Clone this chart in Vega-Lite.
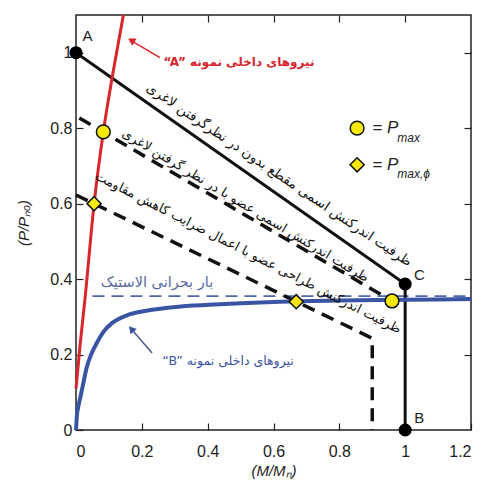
{
  "$schema": "https://vega.github.io/schema/vega-lite/v6.json",
  "width": 395,
  "height": 415,
  "autosize": {"type": "none"},
  "padding": {"left": 76, "top": 15, "right": 13, "bottom": 57},
  "background": "white",
  "config": {
    "view": {"stroke": "#222", "strokeWidth": 1.5},
    "axis": {"domain": false, "grid": false, "labelFont": "Liberation Sans", "labelFontSize": 16, "labelColor": "#222", "titleFont": "Liberation Sans", "titleFontSize": 15, "titleColor": "#222", "titleFontWeight": "normal", "tickColor": "#222", "tickWidth": 1.2, "tickSize": -7}
  },
  "datasets": {
    "capacity": [
      {"x": 0, "y": 1.0, "i": 1},
      {"x": 1.0, "y": 0.387, "i": 2},
      {"x": 1.0, "y": 0.0, "i": 3}
    ],
    "dash1": [
      {"x": 0.01, "y": 0.827, "i": 1},
      {"x": 0.96, "y": 0.342, "i": 2}
    ],
    "dash2": [
      {"x": 0.0, "y": 0.623, "i": 1},
      {"x": 0.9, "y": 0.243, "i": 2},
      {"x": 0.9, "y": 0.0, "i": 3}
    ],
    "elastic": [
      {"x": 0.05, "y": 0.355},
      {"x": 1.2, "y": 0.355}
    ],
    "red": [
      {"x": 0.0, "y": 0.11},
      {"x": 0.013, "y": 0.23},
      {"x": 0.027, "y": 0.345},
      {"x": 0.055, "y": 0.6},
      {"x": 0.083, "y": 0.79},
      {"x": 0.113, "y": 0.95},
      {"x": 0.144, "y": 1.1}
    ],
    "blue": [
      {"x": 0, "y": 0},
      {"x": 0.003, "y": 0.04},
      {"x": 0.007, "y": 0.062},
      {"x": 0.012, "y": 0.082},
      {"x": 0.02, "y": 0.115},
      {"x": 0.033, "y": 0.167},
      {"x": 0.045, "y": 0.198},
      {"x": 0.064, "y": 0.232},
      {"x": 0.085, "y": 0.262},
      {"x": 0.11, "y": 0.284},
      {"x": 0.158, "y": 0.305},
      {"x": 0.2, "y": 0.314},
      {"x": 0.28, "y": 0.324},
      {"x": 0.36, "y": 0.33},
      {"x": 0.5, "y": 0.336},
      {"x": 0.62, "y": 0.34},
      {"x": 0.8, "y": 0.343},
      {"x": 1.0, "y": 0.345},
      {"x": 1.2, "y": 0.347}
    ],
    "blackpts": [
      {"x": 0, "y": 1.0, "label": "A", "lx": 0.035, "ly": 1.045},
      {"x": 1.0, "y": 0.387, "label": "C", "lx": 1.043, "ly": 0.41},
      {"x": 1.0, "y": 0.0, "label": "B", "lx": 1.043, "ly": 0.033}
    ],
    "pmax": [
      {"x": 0.083, "y": 0.79},
      {"x": 0.96, "y": 0.342},
      {"x": 0.854, "y": 0.8}
    ],
    "pphi": [
      {"x": 0.055, "y": 0.6},
      {"x": 0.669, "y": 0.34},
      {"x": 0.854, "y": 0.703}
    ],
    "legendP": [
      {"x": 0.9, "y": 0.8, "t": "= P"},
      {"x": 0.9, "y": 0.703, "t": "= P"}
    ],
    "legendSub": [
      {"x": 0.976, "y": 0.775, "t": "max"},
      {"x": 0.976, "y": 0.678, "t": "max,ϕ"}
    ],
    "t1": [{"x": 0.617, "y": 0.676, "t": "ظرفیت اندرکنش اسمی مقطع بدون در نظرگرفتن لاغری"}],
    "t2": [{"x": 0.515, "y": 0.595, "t": "ظرفیت اندرکنش اسمی عضو با در نظر گرفتن لاغری"}],
    "t3": [{"x": 0.523, "y": 0.47, "t": "ظرفیت اندرکنش طراحی عضو با اعمال ضرایب کاهش مقاومت"}],
    "redtxt": [{"x": 0.495, "y": 0.976, "t": "“A” نیروهای داخلی نمونه"}],
    "bluetxt": [{"x": 0.462, "y": 0.183, "t": "“B” نیروهای داخلی نمونه"}],
    "elastictxt": [{"x": 0.246, "y": 0.39, "t": "بار بحرانی الاستیک"}],
    "redarrow": [{"x": 0.255, "y": 0.987, "x2": 0.17, "y2": 1.031}],
    "redhead": [{"x": 0.168, "y": 1.033}],
    "bluearrow": [{"x": 0.231, "y": 0.204, "x2": 0.17, "y2": 0.266}],
    "bluehead": [{"x": 0.168, "y": 0.268}]
  },
  "resolve": {"axis": {"x": "independent", "y": "independent"}},
  "layer": [
    {
      "data": {"name": "elastic"},
      "mark": {"type": "line", "color": "#4f66aa", "strokeWidth": 1.8, "strokeDash": [12, 7]},
      "encoding": {
        "x": {"field": "x", "type": "quantitative", "scale": {"domain": [0, 1.2], "nice": false, "zero": false},
              "axis": {"values": [0, 0.2, 0.4, 0.6, 0.8, 1, 1.2], "format": "~g", "labelPadding": 20, "title": "(M/Mₙ)", "titleFontStyle": "italic", "titlePadding": 4}},
        "y": {"field": "y", "type": "quantitative", "scale": {"domain": [0, 1.1], "nice": false, "zero": false},
              "axis": {"values": [0, 0.2, 0.4, 0.6, 0.8, 1], "format": "~g", "labelPadding": 11, "title": "(P/Pₙₒ)", "titleFontStyle": "italic", "titlePadding": 18}}
      }
    },
    {
      "data": {"name": "dash1"},
      "mark": {"type": "line", "color": "#111", "strokeWidth": 3.5, "strokeDash": [13, 8]},
      "encoding": {
        "x": {"field": "x", "type": "quantitative", "axis": {"orient": "top", "values": [0.2, 0.4, 0.6, 0.8, 1], "labels": false, "title": null}},
        "y": {"field": "y", "type": "quantitative", "axis": {"orient": "right", "values": [0.2, 0.4, 0.6, 0.8, 1], "labels": false, "title": null}},
        "order": {"field": "i"}
      }
    },
    {
      "data": {"name": "dash2"},
      "mark": {"type": "line", "color": "#111", "strokeWidth": 3.5, "strokeDash": [13, 8]},
      "encoding": {
        "x": {"field": "x", "type": "quantitative", "axis": null},
        "y": {"field": "y", "type": "quantitative", "axis": null},
        "order": {"field": "i"}
      }
    },
    {
      "data": {"name": "capacity"},
      "mark": {"type": "line", "color": "#111", "strokeWidth": 3},
      "encoding": {
        "x": {"field": "x", "type": "quantitative", "axis": null},
        "y": {"field": "y", "type": "quantitative", "axis": null},
        "order": {"field": "i"}
      }
    },
    {
      "data": {"name": "red"},
      "mark": {"type": "line", "color": "#d7262d", "strokeWidth": 3, "interpolate": "monotone"},
      "encoding": {
        "x": {"field": "x", "type": "quantitative", "axis": null},
        "y": {"field": "y", "type": "quantitative", "axis": null}
      }
    },
    {
      "data": {"name": "blue"},
      "mark": {"type": "line", "color": "#3a54a4", "strokeWidth": 4, "interpolate": "monotone"},
      "encoding": {
        "x": {"field": "x", "type": "quantitative", "axis": null},
        "y": {"field": "y", "type": "quantitative", "axis": null}
      }
    },
    {
      "data": {"name": "redarrow"},
      "mark": {"type": "rule", "color": "#d7262d", "strokeWidth": 1.5},
      "encoding": {
        "x": {"field": "x", "type": "quantitative", "axis": null},
        "y": {"field": "y", "type": "quantitative", "axis": null},
        "x2": {"field": "x2"},
        "y2": {"field": "y2"}
      }
    },
    {
      "data": {"name": "redhead"},
      "mark": {"type": "point", "shape": "triangle-up", "filled": true, "color": "#d7262d", "size": 70, "angle": -59, "opacity": 1},
      "encoding": {
        "x": {"field": "x", "type": "quantitative", "axis": null},
        "y": {"field": "y", "type": "quantitative", "axis": null}
      }
    },
    {
      "data": {"name": "bluearrow"},
      "mark": {"type": "rule", "color": "#4a5c8c", "strokeWidth": 1.5},
      "encoding": {
        "x": {"field": "x", "type": "quantitative", "axis": null},
        "y": {"field": "y", "type": "quantitative", "axis": null},
        "x2": {"field": "x2"},
        "y2": {"field": "y2"}
      }
    },
    {
      "data": {"name": "bluehead"},
      "mark": {"type": "point", "shape": "triangle-up", "filled": true, "color": "#3a54a4", "size": 70, "angle": -41, "opacity": 1},
      "encoding": {
        "x": {"field": "x", "type": "quantitative", "axis": null},
        "y": {"field": "y", "type": "quantitative", "axis": null}
      }
    },
    {
      "data": {"name": "t1"},
      "mark": {"type": "text", "font": "DejaVu Sans", "fontSize": 13.5, "color": "#111", "angle": 34, "align": "center", "baseline": "middle"},
      "encoding": {
        "x": {"field": "x", "type": "quantitative", "axis": null},
        "y": {"field": "y", "type": "quantitative", "axis": null},
        "text": {"field": "t"}
      }
    },
    {
      "data": {"name": "t2"},
      "mark": {"type": "text", "font": "DejaVu Sans", "fontSize": 13, "color": "#111", "angle": 31, "align": "center", "baseline": "middle"},
      "encoding": {
        "x": {"field": "x", "type": "quantitative", "axis": null},
        "y": {"field": "y", "type": "quantitative", "axis": null},
        "text": {"field": "t"}
      }
    },
    {
      "data": {"name": "t3"},
      "mark": {"type": "text", "font": "DejaVu Sans", "fontSize": 13, "color": "#111", "angle": 27, "align": "center", "baseline": "middle"},
      "encoding": {
        "x": {"field": "x", "type": "quantitative", "axis": null},
        "y": {"field": "y", "type": "quantitative", "axis": null},
        "text": {"field": "t"}
      }
    },
    {
      "data": {"name": "redtxt"},
      "mark": {"type": "text", "font": "DejaVu Sans", "fontSize": 12, "fontWeight": "bold", "color": "#d7262d", "align": "center", "baseline": "middle"},
      "encoding": {
        "x": {"field": "x", "type": "quantitative", "axis": null},
        "y": {"field": "y", "type": "quantitative", "axis": null},
        "text": {"field": "t"}
      }
    },
    {
      "data": {"name": "bluetxt"},
      "mark": {"type": "text", "font": "DejaVu Sans", "fontSize": 12.5, "color": "#3a54a4", "align": "center", "baseline": "middle"},
      "encoding": {
        "x": {"field": "x", "type": "quantitative", "axis": null},
        "y": {"field": "y", "type": "quantitative", "axis": null},
        "text": {"field": "t"}
      }
    },
    {
      "data": {"name": "elastictxt"},
      "mark": {"type": "text", "font": "DejaVu Sans", "fontSize": 14.5, "color": "#5a6aa0", "align": "center", "baseline": "middle"},
      "encoding": {
        "x": {"field": "x", "type": "quantitative", "axis": null},
        "y": {"field": "y", "type": "quantitative", "axis": null},
        "text": {"field": "t"}
      }
    },
    {
      "data": {"name": "blackpts"},
      "mark": {"type": "point", "shape": "circle", "filled": true, "color": "#000", "size": 170, "opacity": 1},
      "encoding": {
        "x": {"field": "x", "type": "quantitative", "axis": null},
        "y": {"field": "y", "type": "quantitative", "axis": null}
      }
    },
    {
      "data": {"name": "blackpts"},
      "mark": {"type": "text", "font": "Liberation Sans", "fontSize": 15, "color": "#222", "align": "center", "baseline": "middle"},
      "encoding": {
        "x": {"field": "lx", "type": "quantitative", "axis": null},
        "y": {"field": "ly", "type": "quantitative", "axis": null},
        "text": {"field": "label"}
      }
    },
    {
      "data": {"name": "pmax"},
      "mark": {"type": "point", "shape": "circle", "filled": true, "fill": "#f7e80c", "stroke": "#111", "strokeWidth": 1.5, "size": 190, "opacity": 1},
      "encoding": {
        "x": {"field": "x", "type": "quantitative", "axis": null},
        "y": {"field": "y", "type": "quantitative", "axis": null}
      }
    },
    {
      "data": {"name": "pphi"},
      "mark": {"type": "point", "shape": "diamond", "filled": true, "fill": "#f7e80c", "stroke": "#111", "strokeWidth": 1.5, "size": 200, "opacity": 1},
      "encoding": {
        "x": {"field": "x", "type": "quantitative", "axis": null},
        "y": {"field": "y", "type": "quantitative", "axis": null}
      }
    },
    {
      "data": {"name": "legendP"},
      "mark": {"type": "text", "font": "Liberation Sans", "fontSize": 17, "fontStyle": "italic", "color": "#222", "align": "left", "baseline": "middle"},
      "encoding": {
        "x": {"field": "x", "type": "quantitative", "axis": null},
        "y": {"field": "y", "type": "quantitative", "axis": null},
        "text": {"field": "t"}
      }
    },
    {
      "data": {"name": "legendSub"},
      "mark": {"type": "text", "font": "Liberation Sans", "fontSize": 12, "fontStyle": "italic", "color": "#222", "align": "left", "baseline": "middle"},
      "encoding": {
        "x": {"field": "x", "type": "quantitative", "axis": null},
        "y": {"field": "y", "type": "quantitative", "axis": null},
        "text": {"field": "t"}
      }
    }
  ]
}
